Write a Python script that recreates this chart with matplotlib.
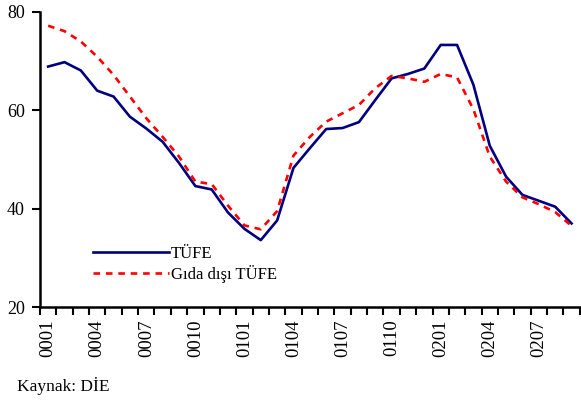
import matplotlib
matplotlib.use('Agg')
import matplotlib.pyplot as plt
import numpy as np

plt.rcParams['font.family'] = ['Liberation Serif', 'DejaVu Serif']
plt.rcParams['font.size'] = 12

# aylar: 0001 .. 0209
months = ['%02d%02d' % (y, m) for y in range(0, 3) for m in range(1, 13)][:33]
tufe = [68.9, 69.8, 68.1, 64.0, 62.8, 58.7, 56.3, 53.6, 49.3, 44.6, 43.9,
        39.2, 35.9, 33.6, 37.6, 48.3, 52.3, 56.2, 56.4, 57.6, 62.1, 66.5,
        67.4, 68.5, 73.3, 73.3, 65.2, 52.8, 46.5, 42.8, 41.6, 40.4, 37.0]
gida_disi = [77.2, 76.1, 74.0, 70.9, 67.2, 62.8, 58.4, 54.6, 50.6, 45.5, 45.0,
             40.6, 36.6, 35.8, 39.5, 50.8, 54.6, 57.7, 59.4, 61.1, 64.5, 67.0,
             66.5, 65.8, 67.4, 66.7, 60.2, 50.6, 45.5, 42.3, 40.9, 39.3, 36.5]

fig = plt.figure(figsize=(5.81, 4.0), dpi=100)
ax = fig.add_axes([0.0688, 0.2325, 0.929, 0.7375])

x = np.arange(len(months))
ax.plot(x, tufe, color='#000080', lw=1.9, label='TÜFE')
ax.plot(x, gida_disi, color='#FF0000', lw=1.9, dashes=(2.5, 2.2), label='Gıda dışı TÜFE')

ax.set_xlim(-0.5, len(months) - 0.5)
ax.set_ylim(20, 80)
ax.set_yticks([20, 40, 60, 80])

# tick marks between categories, labels at every third month
ax.set_xticks(np.arange(-0.5, len(months)))
ax.set_xticklabels([])
ax.set_xticks(x[::3], minor=True)
ax.set_xticklabels([months[i] for i in x[::3]], minor=True, rotation=90, fontsize=13.5)
ax.tick_params(axis='x', which='major', direction='out', length=6, width=1.5)
ax.tick_params(axis='x', which='minor', length=0, pad=9)
ax.tick_params(axis='y', direction='out', length=6, width=1.5, pad=5, labelsize=13)

for s in ['top', 'right']:
    ax.spines[s].set_visible(False)
for s in ['left', 'bottom']:
    ax.spines[s].set_linewidth(1.8)

ax.legend(loc='upper left', bbox_to_anchor=(0.085, 0.23), frameon=False,
          handlelength=4.6, handletextpad=0.1, labelspacing=0.2,
          borderaxespad=0)

fig.text(17 / 581, 1 - 386 / 400, 'Kaynak: DİE', va='center', ha='left', fontsize=12.5)

fig.savefig('out.png', dpi=100)
